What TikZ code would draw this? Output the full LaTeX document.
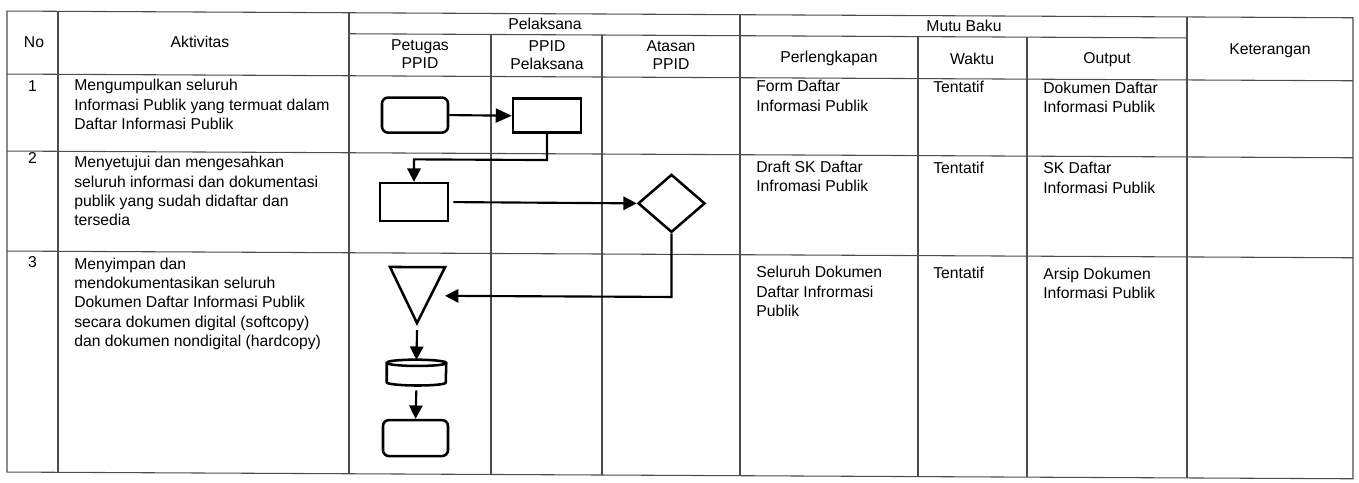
\documentclass[tikz,border=0pt]{standalone}
\usepackage{fontspec}
\setmainfont{Liberation Sans}
\usetikzlibrary{arrows.meta,shapes.geometric}
\begin{document}
\begin{tikzpicture}[x=0.75pt,y=-0.75pt,
  gridline/.style={line width=0.8pt,draw=black!70},
  hd/.style={font=\fontsize{11.8}{13.5}\selectfont,inner sep=0pt,align=center,anchor=center},
  txt/.style={font=\fontsize{11.8}{14.6}\selectfont,inner sep=0pt,align=left,anchor=north west},
  shp/.style={draw=black,line width=1.9pt},
  flow/.style={line width=1.6pt,-{Triangle[length=10pt,width=10pt]}}
]
\useasboundingbox (0,0) rectangle (1359,482);
\begin{scope}[yslant=-0.005]
% ---------- table grid ----------
\draw[gridline] (7,11) rectangle (1353,472);
\draw[gridline] (349,32) -- (1187,32);
\draw[gridline] (7,74) -- (1353,74);
\draw[gridline] (7,151) -- (1353,151);
\draw[gridline] (7,251) -- (1353,251);
\draw[gridline] (58,11) -- (58,472);
\draw[gridline] (349,11) -- (349,472);
\draw[gridline] (491,32) -- (491,472);
\draw[gridline] (602,32) -- (602,472);
\draw[gridline] (740,11) -- (740,472);
\draw[gridline] (918,32) -- (918,472);
\draw[gridline] (1027,32) -- (1027,472);
\draw[gridline] (1187,11) -- (1187,472);
% ---------- header ----------
\node[hd] (hNo) at (34,42) {No};
\node[hd] (hAkt) at (200,41) {Aktivitas};
\node[hd] (hPel) at (545,21.5) {Pelaksana};
\node[hd] (hPet) at (420,52) {Petugas\\PPID};
\node[hd] (hPP) at (547,52) {PPID\\Pelaksana};
\node[hd] (hAt) at (671,52) {Atasan\\PPID};
\node[hd] (hMutu) at (964,21.5) {Mutu Baku};
\node[hd] (hPerl) at (829,54) {Perlengkapan};
\node[hd] (hWak) at (972,54) {Waktu};
\node[hd] (hOut) at (1107,54) {Output};
\node[hd] (hKet) at (1270,44) {Keterangan};
% ---------- row 1 ----------
\node[hd] (n1) at (32.5,86) {1};
\node[txt] (a1) at (74,78.5) {Mengumpulkan seluruh\\Informasi Publik yang termuat dalam\\Daftar Informasi Publik};
\node[txt] (p1) at (756,76.5) {Form Daftar\\Informasi Publik};
\node[txt] (w1) at (933,76.5) {Tentatif};
\node[txt] (o1) at (1043,76.5) {Dokumen Daftar\\Informasi Publik};
% ---------- row 2 ----------
\node[hd] (n2) at (32.5,158) {2};
\node[txt] (a2) at (74,155.5) {Menyetujui dan mengesahkan\\seluruh informasi dan dokumentasi\\publik yang sudah didaftar dan\\tersedia};
\node[txt] (p2) at (756,157) {Draft SK Daftar\\Infromasi Publik};
\node[txt] (w2) at (933,157) {Tentatif};
\node[txt] (o2) at (1043,157) {SK Daftar\\Informasi Publik};
% ---------- row 3 ----------
\node[hd] (n3) at (32.5,262) {3};
\node[txt] (a3) at (74,257) {Menyimpan dan\\mendokumentasikan seluruh\\Dokumen Daftar Informasi Publik\\secara dokumen digital (softcopy)\\dan dokumen nondigital (hardcopy)};
\node[txt] (p3) at (756,262.5) {Seluruh Dokumen\\Daftar Infrormasi\\Publik};
\node[txt] (w3) at (933,262.5) {Tentatif};
\node[txt] (o3) at (1043,262.5) {Arsip Dokumen\\Informasi Publik};
% ---------- flow shapes ----------
\node[shp,rounded corners=4.5pt,minimum width=49.5pt,minimum height=26.25pt,inner sep=0pt] (A) at (415,113) {};
\node[shp,minimum width=51pt,minimum height=25.5pt,inner sep=0pt] (B) at (547,113) {};
\node[shp,minimum width=51pt,minimum height=28.5pt,inner sep=0pt] (C) at (414,200) {};
\node[shp,diamond,minimum width=50.25pt,minimum height=43.5pt,inner sep=0pt] (D) at (671.5,200) {};
\coordinate (T1) at (390,265);
\coordinate (T2) at (445,265);
\coordinate (T3) at (417,321);
\draw[shp,line join=miter] (T1) -- (T2) -- (T3) -- cycle;
\node[minimum width=44.25pt,minimum height=18.75pt,inner sep=0pt] (E) at (416.5,370.5) {};
\draw[shp] ([yshift=-2.25pt]E.north west) -- ([yshift=2.25pt]E.south west)
  arc[start angle=180,end angle=360,x radius=22.125pt,y radius=2.25pt]
  -- ([yshift=-2.25pt]E.north east)
  arc[start angle=0,end angle=180,x radius=22.125pt,y radius=2.25pt] -- cycle;
\draw[shp] ([yshift=-2.25pt]E.north west)
  arc[start angle=180,end angle=360,x radius=22.125pt,y radius=2.25pt];
\node[shp,rounded corners=4.5pt,minimum width=48.75pt,minimum height=27pt,inner sep=0pt] (F) at (415.5,436) {};
% ---------- connectors ----------
\draw[flow,-{Triangle[length=12pt,width=10.5pt]}] (A.east) -- (B.west);
\coordinate (k1) at (547,157.3);
\draw[flow] (B.south) -- (k1) -| (C.north);
\draw[flow,shorten <=3pt] (C.east) -- (D.west);
\coordinate (triIn) at (445,293.6);
\draw[flow] (D.south) |- (triIn);
\coordinate (T3s) at (417,328);
\draw[flow] (T3s) -- (E.north);
\draw[flow,shorten <=3.75pt] (E.south) -- (F.north);
\end{scope}
\end{tikzpicture}
\end{document}
